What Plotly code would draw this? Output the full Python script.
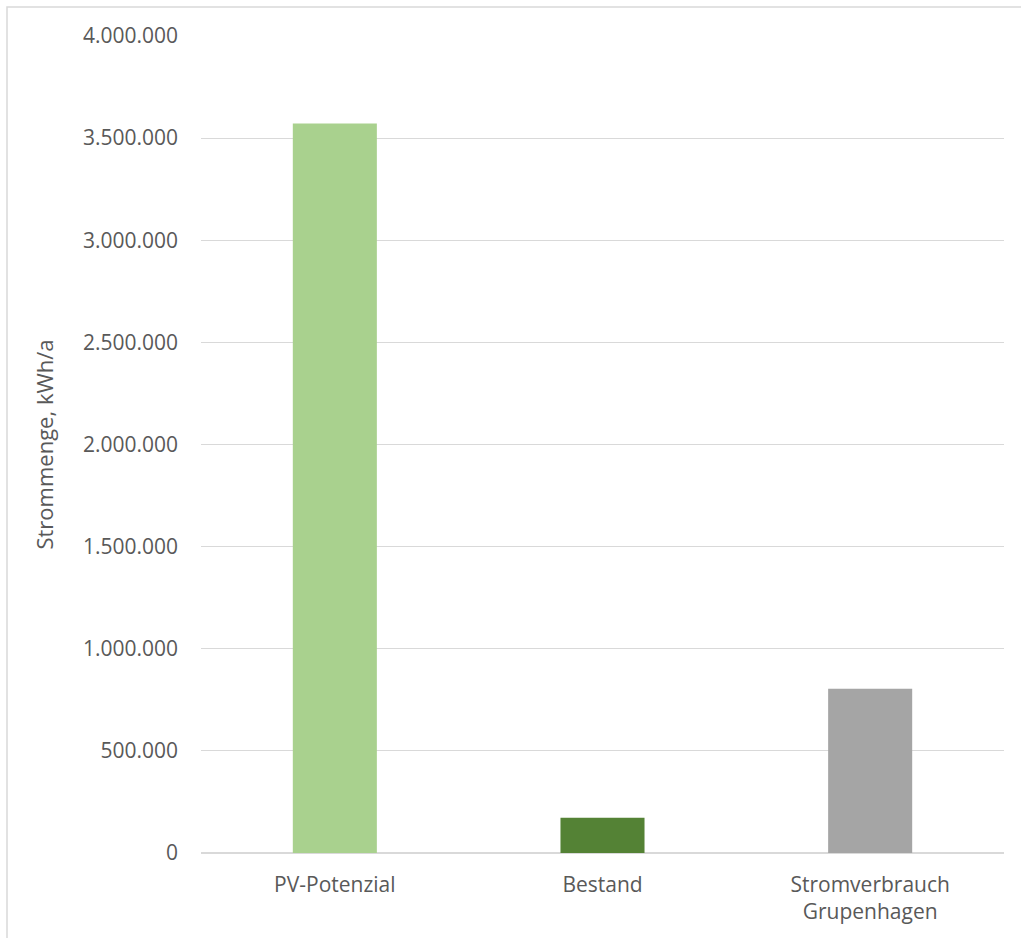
import plotly.graph_objects as go

# Annual electricity amounts (kWh/a)
categories = ["PV-Potenzial", "Bestand", "Stromverbrauch<br>Grupenhagen"]
values = [3572000, 172000, 804000]
bar_colors = ["#a9d18e", "#548235", "#a5a5a5"]
y_ticks = [0, 500000, 1000000, 1500000, 2000000, 2500000, 3000000, 3500000, 4000000]

font_family = "Open Sans, DejaVu Sans, sans-serif"
text_color = "#595959"
grid_color = "#d9d9d9"

fig = go.Figure(
    go.Bar(
        x=categories,
        y=values,
        marker=dict(color=bar_colors, line=dict(width=0)),
        hoverinfo="x+y",
    )
)

fig.update_layout(
    width=1021,
    height=938,
    margin=dict(l=201, r=17, t=36, b=85),
    paper_bgcolor="white",
    plot_bgcolor="white",
    separators=",.",
    bargap=0.686,
    showlegend=False,
    font=dict(family=font_family, size=21, color=text_color),
    shapes=[
        # light frame around the chart area
        dict(
            type="rect",
            xref="paper",
            yref="paper",
            x0=-0.2416,
            x1=1.05,
            y0=-0.2,
            y1=1.0355,
            line=dict(color=grid_color, width=1.5),
            fillcolor="rgba(0,0,0,0)",
            layer="below",
        )
    ],
)

fig.update_xaxes(
    showgrid=False,
    showline=False,
    ticks="",
    tickfont=dict(size=21, color=text_color),
    ticklabelstandoff=17,
)

fig.update_yaxes(
    range=[0, 4000000],
    tickvals=y_ticks,
    tickformat=",.0f",
    showgrid=True,
    gridcolor=grid_color,
    gridwidth=1.3,
    zeroline=True,
    zerolinecolor=grid_color,
    zerolinewidth=1.5,
    showline=False,
    ticks="",
    tickfont=dict(size=21, color=text_color),
    ticklabelstandoff=22,
    title=dict(
        text="Strommenge, kWh/a",
        font=dict(size=22, color=text_color),
        standoff=23,
    ),
)

fig.write_html("out.html")
